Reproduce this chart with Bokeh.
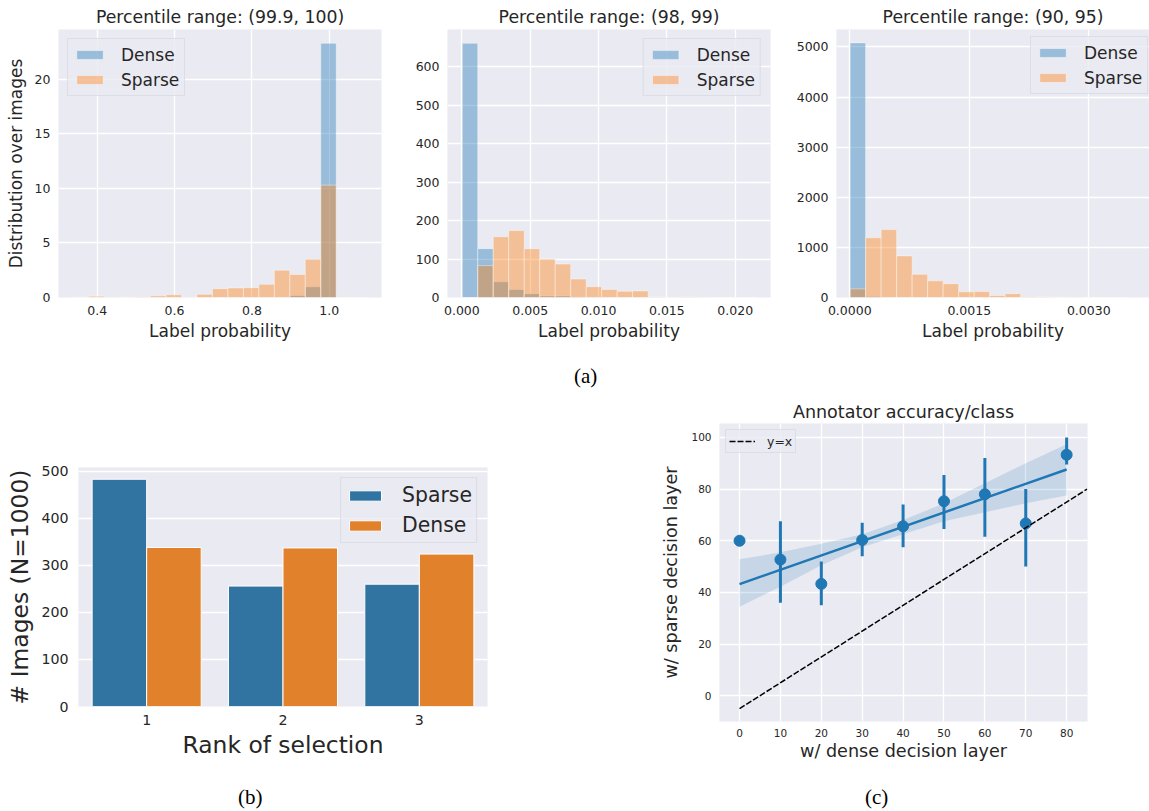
import numpy as np
from bokeh.plotting import figure
from bokeh.models import (Range1d, FixedTicker, Legend, LegendItem, Div,
                          ColumnDataSource, FactorRange, NumeralTickFormatter)
from bokeh.layouts import row, column
from bokeh.transform import dodge
from bokeh.embed import file_html
from bokeh.resources import INLINE

# ---------------- data ----------------
# (a) left: percentile range (99.9, 100)
a1_title = "Percentile range: (99.9, 100)"
a1_bin_start = 0.338
a1_bin_width = 0.04
a1_dense = [0, 0, 0, 0, 0, 0, 0, 0, 0, 0, 0, 0, 0, 0, 0.18, 0.98, 23.3, 0, 0]
a1_sparse = [0.03, 0.12, 0.02, 0.03, 0.08, 0.16, 0.25, 0.02, 0.29, 0.81,
             0.87, 0.9, 1.21, 2.5, 2.11, 3.5, 10.3, 0, 0]
a1_xticks = [0.4, 0.6, 0.8, 1.0]
a1_yticks = [0, 5, 10, 15, 20]

# (a) middle: percentile range (98, 99)
a2_title = "Percentile range: (98, 99)"
a2_bin_start = 0.00003
a2_bin_width = 0.001133
a2_dense = [661, 127, 41, 21, 10, 4, 4, 1, 0.5, 0, 0, 0, 0, 0, 0, 0, 0, 0, 0]
a2_sparse = [0, 83, 158, 174, 127, 100, 87, 48, 28, 21, 16, 17, 1.5, 0.5, 1,
             0.5, 0, 0, 0]
a2_xticks = [0.0, 0.005, 0.01, 0.015, 0.02]
a2_yticks = [0, 100, 200, 300, 400, 500, 600]

# (a) right: percentile range (90, 95)
a3_title = "Percentile range: (90, 95)"
a3_bin_start = 0.000004
a3_bin_width = 0.0001946
a3_dense = [5080, 20, 0, 0, 0, 0, 0, 0, 0, 0, 0, 0, 0, 0, 0, 0, 0, 0]
a3_sparse = [173, 1192, 1355, 830, 462, 332, 275, 113, 118, 40, 76, 15, 10,
             5, 3, 0, 0, 0]
a3_xticks = [0.0, 0.0015, 0.003]
a3_yticks = [0, 1000, 2000, 3000, 4000, 5000]

# (b) rank of selection
b_ranks = ["1", "2", "3"]
b_sparse = [483, 256, 260]
b_dense = [338, 337, 324]
b_yticks = [0, 100, 200, 300, 400, 500]

# (c) annotator accuracy / class
c_x = [0, 10, 20, 30, 40, 50, 60, 70, 80]
c_y = [60, 52.7, 43.3, 60.3, 65.6, 75.3, 78, 66.7, 93.3]
c_err_lo = [60, 36, 35, 54, 57.5, 64.5, 61.5, 50, 89.5]
c_err_hi = [60, 67.5, 52, 67, 74, 85.5, 92, 80, 100]
c_fit_x = [0, 80]
c_fit_y = [43.2, 87.6]
c_band_lo = [34.4, 42.2, 50.5, 57.5, 62.5, 67.5, 71, 74.5, 77.5]
c_band_hi = [52.8, 55.5, 58.8, 62.5, 68, 74.5, 82.3, 90, 97.4]
c_ref_x = [0, 85]
c_ref_y = [-5, 80]
c_xticks = [0, 10, 20, 30, 40, 50, 60, 70, 80]
c_yticks = [0, 20, 40, 60, 80, 100]

# ---------------- style ----------------
FONT = "DejaVu Sans"
TXT = "#262626"
BG = "#eaeaf2"
BLUE = "#1f77b4"
ORANGE = "#ff7f0e"
BLUE_D = "#3274a1"
ORANGE_D = "#e1812c"


def style_axes(p, tick_size, label_size, x_std, y_std, xl_std, yl_std):
    p.background_fill_color = BG
    p.border_fill_color = "white"
    p.outline_line_color = None
    for ax in p.axis:
        ax.axis_line_color = None
        ax.major_tick_line_color = None
        ax.minor_tick_line_color = None
        ax.major_tick_out = 0
        ax.major_tick_in = 0
        ax.minor_tick_out = 0
        ax.minor_tick_in = 0
        ax.major_label_text_font = FONT
        ax.major_label_text_font_size = tick_size
        ax.major_label_text_color = TXT
        ax.axis_label_text_font = FONT
        ax.axis_label_text_font_size = label_size
        ax.axis_label_text_color = TXT
        ax.axis_label_text_font_style = "normal"
    p.xaxis.major_label_standoff = x_std
    p.yaxis.major_label_standoff = y_std
    p.xaxis.axis_label_standoff = xl_std
    p.yaxis.axis_label_standoff = yl_std
    p.xgrid.grid_line_color = "white"
    p.ygrid.grid_line_color = "white"
    p.xgrid.grid_line_width = 1.3
    p.ygrid.grid_line_width = 1.3


def style_title(p, size, standoff):
    p.title.align = "center"
    p.title.text_font = FONT
    p.title.text_font_size = size
    p.title.text_font_style = "normal"
    p.title.text_color = TXT
    p.title.standoff = standoff


def style_legend(leg, font_size, gw, gh, lh, spacing, padding, standoff, margin):
    leg.label_text_font = FONT
    leg.label_text_font_size = font_size
    leg.label_text_color = TXT
    leg.glyph_width = gw
    leg.glyph_height = gh
    leg.label_height = lh
    leg.spacing = spacing
    leg.padding = padding
    leg.label_standoff = standoff
    leg.margin = margin
    leg.background_fill_color = BG
    leg.background_fill_alpha = 0.8
    leg.border_line_color = "#cfcfd8"
    leg.border_line_width = 1


def hist_panel(title, start, bw, dense, sparse, xr, yr, xticks, yticks, xfmt,
               loc, fig_w, bl, br, ylabel=None):
    n = len(dense)
    edges = start + bw * np.arange(n + 1)
    p = figure(width=fig_w, height=357, title=title,
               x_range=Range1d(*xr), y_range=Range1d(*yr),
               output_backend="svg", toolbar_location=None,
               min_border_left=bl, min_border_right=br,
               min_border_top=29, min_border_bottom=60)
    rd = p.quad(left=edges[:-1], right=edges[1:], bottom=0, top=dense,
                fill_color=BLUE, fill_alpha=0.4, line_color="white",
                line_alpha=0.4, line_width=1)
    rs = p.quad(left=edges[:-1], right=edges[1:], bottom=0, top=sparse,
                fill_color=ORANGE, fill_alpha=0.4, line_color="white",
                line_alpha=0.4, line_width=1)
    p.xaxis.ticker = FixedTicker(ticks=xticks)
    p.yaxis.ticker = FixedTicker(ticks=yticks)
    p.xaxis.formatter = NumeralTickFormatter(format=xfmt)
    p.yaxis.formatter = NumeralTickFormatter(format="0")
    p.xaxis.axis_label = "Label probability"
    if ylabel:
        p.yaxis.axis_label = ylabel
    style_axes(p, "12.5px", "17px", 8, 8, 3, 6)
    style_title(p, "17.3px", 5)
    leg = Legend(items=[LegendItem(label="Dense", renderers=[rd]),
                        LegendItem(label="Sparse", renderers=[rs])],
                 location=loc)
    style_legend(leg, "17px", 33, 11, 21, 4, 5, 15, 9)
    p.add_layout(leg)
    return p


f1 = hist_panel(a1_title, a1_bin_start, a1_bin_width, a1_dense, a1_sparse,
                (0.300, 1.135), (0, 24.57), a1_xticks, a1_yticks, "0.0",
                "top_left", 389, 58, 8, ylabel="Distribution over images")
f2 = hist_panel(a2_title, a2_bin_start, a2_bin_width, a2_dense, a2_sparse,
                (-0.00105, 0.02258), (0, 697), a2_xticks, a2_yticks, "0.000",
                "top_right", 389, 58, 8)
# legend of the right panel sits partly beyond the canvas edge, as in the source
f3 = hist_panel(a3_title, a3_bin_start, a3_bin_width, a3_dense, a3_sparse,
                (-0.000167, 0.003762), (0, 5347), a3_xticks, a3_yticks,
                "0.0000", (194, 203), 371, 58, 0)

# ---------------- (b) ----------------
src_b = ColumnDataSource(data=dict(rank=b_ranks, sparse=b_sparse, dense=b_dense))
f4 = figure(width=658, height=373, x_range=FactorRange(factors=b_ranks),
            y_range=Range1d(0, 508), output_backend="svg",
            toolbar_location=None, min_border_left=78, min_border_right=171,
            min_border_top=70, min_border_bottom=64)
rb1 = f4.vbar(x=dodge("rank", -0.2, range=f4.x_range), top="sparse", width=0.4,
              source=src_b, fill_color=BLUE_D, line_color="white", line_width=1)
rb2 = f4.vbar(x=dodge("rank", 0.2, range=f4.x_range), top="dense", width=0.4,
              source=src_b, fill_color=ORANGE_D, line_color="white", line_width=1)
f4.yaxis.ticker = FixedTicker(ticks=b_yticks)
f4.xaxis.axis_label = "Rank of selection"
f4.yaxis.axis_label = "# Images (N=1000)"
style_axes(f4, "14.2px", "23.4px", 8, 10, 3, 4)
f4.xgrid.visible = False
leg_b = Legend(items=[LegendItem(label="Sparse", renderers=[rb1]),
                      LegendItem(label="Dense", renderers=[rb2])],
               location="top_right")
style_legend(leg_b, "20.4px", 40, 13, 26, 4, 4, 17, 10)
f4.add_layout(leg_b)

# ---------------- (c) ----------------
f5 = figure(width=491, height=373, title="Annotator accuracy/class",
            x_range=Range1d(-4.9, 85.1), y_range=Range1d(-10, 105.4),
            output_backend="svg", toolbar_location=None,
            min_border_left=60, min_border_right=62,
            min_border_top=25, min_border_bottom=49)
f5.varea(x=c_x, y1=c_band_lo, y2=c_band_hi, fill_color=BLUE, fill_alpha=0.17)
f5.line(x=c_fit_x, y=c_fit_y, line_color=BLUE, line_width=2.5)
f5.segment(x0=c_x, y0=c_err_lo, x1=c_x, y1=c_err_hi, line_color=BLUE,
           line_width=3)
f5.scatter(x=c_x, y=c_y, size=11, fill_color=BLUE, line_color=BLUE)
rref = f5.line(x=c_ref_x, y=c_ref_y, line_color="black", line_width=1.5,
               line_dash="6 2")
f5.xaxis.ticker = FixedTicker(ticks=c_xticks)
f5.yaxis.ticker = FixedTicker(ticks=c_yticks)
f5.xaxis.axis_label = "w/ dense decision layer"
f5.yaxis.axis_label = "w/ sparse decision layer"
style_axes(f5, "10.5px", "17.6px", 7, 8, 1, 7)
style_title(f5, "17.5px", 4)
leg_c = Legend(items=[LegendItem(label="y=x", renderers=[rref])],
               location="top_left")
style_legend(leg_c, "12.5px", 26, 10, 16, 2, 3, 12, 6)
f5.add_layout(leg_c)

# ---------------- captions ----------------
CAP = "font-family:'Liberation Serif',serif;font-size:21px;line-height:24px;color:#000;position:absolute;"
div_a = Div(text=('<div style="position:relative;width:1149px;height:40px;">'
                  '<span style="' + CAP + 'left:574px;top:7px;">(a)</span></div>'),
            width=1149, height=40, margin=(0, 0, 0, 0))
div_bc = Div(text=('<div style="position:relative;width:1149px;height:40px;">'
                   '<span style="' + CAP + 'left:238px;top:15px;">(b)</span>'
                   '<span style="' + CAP + 'left:865px;top:15px;">(c)</span></div>'),
             width=1149, height=40, margin=(0, 0, 0, 0))

layout = column(row(f1, f2, f3), div_a, row(column(f4), column(f5)), div_bc)

open("out.html", "w").write(file_html(layout, INLINE))
